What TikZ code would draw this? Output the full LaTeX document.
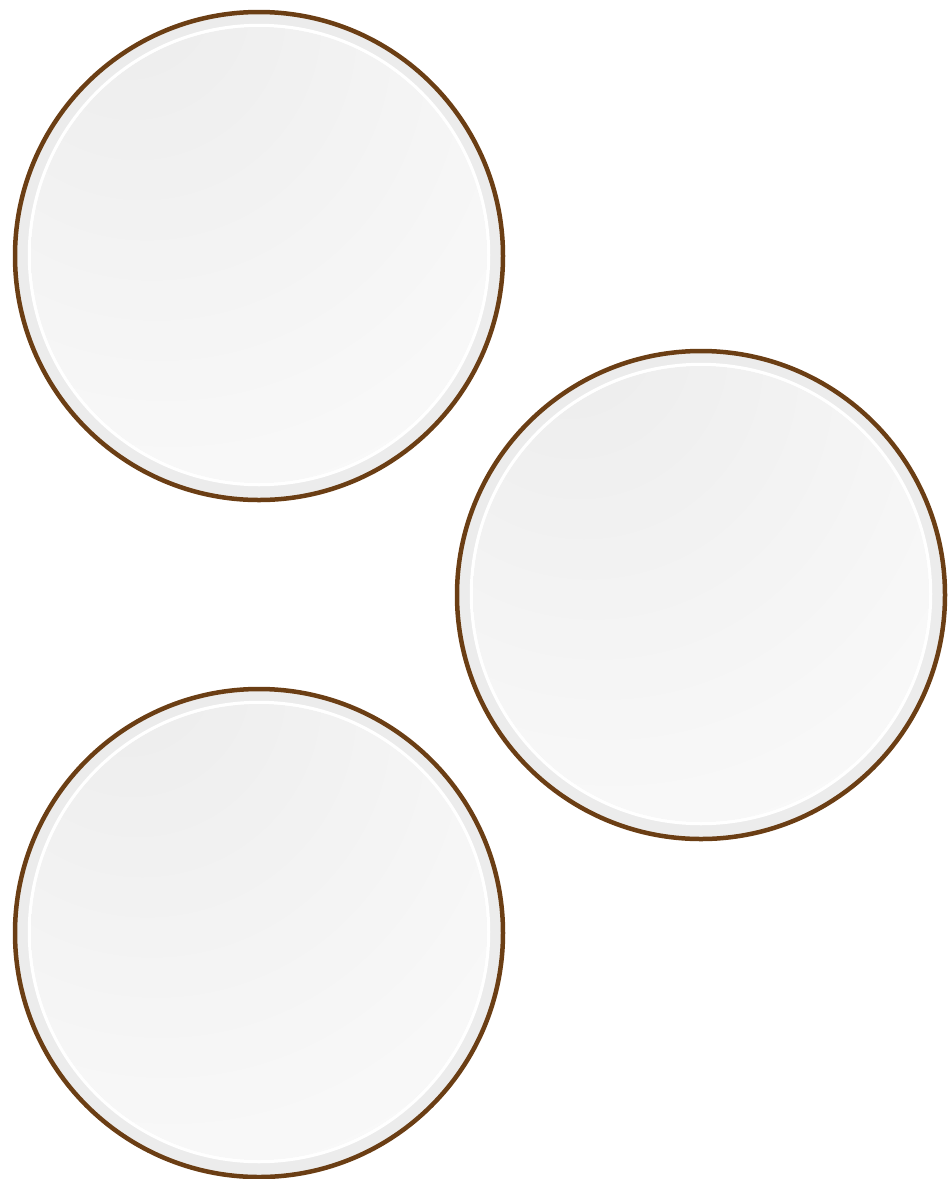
\documentclass[tikz,border=0pt]{standalone}
\definecolor{rimbrown}{HTML}{6B3E14}
\definecolor{bandgray}{HTML}{ECECEC}
\definecolor{gA}{HTML}{EEEEEE}
\definecolor{gB}{HTML}{F7F7F7}
\definecolor{gC}{HTML}{FEFEFE}
\pgfdeclareradialshading{plateshade}{\pgfpoint{-16bp}{32bp}}{color(0bp)=(gA); color(8bp)=(gA); color(38bp)=(gB); color(68bp)=(gC); color(100bp)=(gC)}
\tikzset{
  plate/.pic={
    \fill[bandgray] (0,0) circle (244);
    \draw[white, line width=3.5pt] (0,-1) circle (229.5);
    \shade[shading=plateshade] (0,-1) circle (228);
    \draw[rimbrown, line width=4.5pt] (0,0) circle (244);
  }
}
\begin{document}
\begin{tikzpicture}[x=1pt,y=-1pt]
\useasboundingbox (0,0) rectangle (949,1179);
\pic (p1) at (259,256) {plate};
\pic (p2) at (701,595) {plate};
\pic (p3) at (259,933) {plate};
\end{tikzpicture}
\end{document}
